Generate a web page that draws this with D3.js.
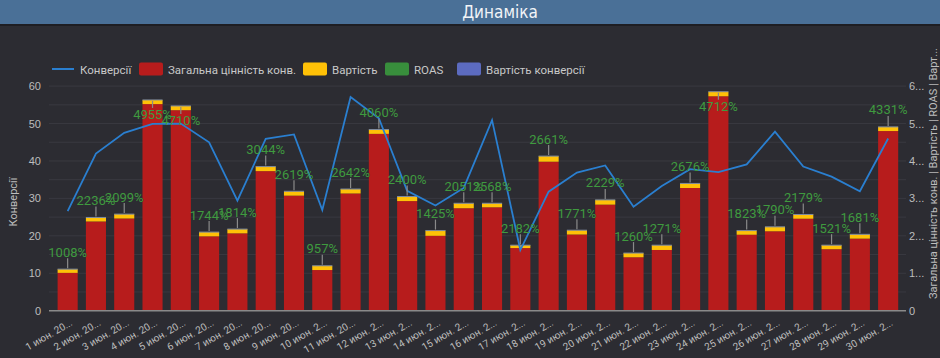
<!DOCTYPE html>
<html><head><meta charset="utf-8">
<script src="https://cdn.jsdelivr.net/npm/d3@7/dist/d3.min.js"></script>
<style>
html,body{margin:0;padding:0;background:#2c2c32;}
svg{display:block;font-family:Roboto,"Liberation Sans",Arial,sans-serif;}
</style></head>
<body><svg id="c" width="940" height="358"></svg>
<script>
const dates = ["1 июн. 20...","2 июн. 20...","3 июн. 20...","4 июн. 20...","5 июн. 20...","6 июн. 20...","7 июн. 20...","8 июн. 20...","9 июн. 20...","10 июн. 2...","11 июн. 20...","12 июн. 2...","13 июн. 2...","14 июн. 2...","15 июн. 2...","16 июн. 2...","17 июн. 2...","18 июн. 2...","19 июн. 2...","20 июн. 2...","21 июн. 2...","22 июн. 2...","23 июн. 2...","24 июн. 2...","25 июн. 2...","26 июн. 2...","27 июн. 2...","28 июн. 2...","29 июн. 2...","30 июн. 2..."];
const conversions = [26.6,42.0,47.5,49.9,50.0,45.0,29.4,45.9,47.1,26.9,57.1,51.4,32.0,28.1,32.8,50.9,16.2,31.8,36.9,38.8,27.8,33.3,37.8,37.0,39.1,47.8,38.5,35.8,31.9,46.0];
const convValue = [1010,2383,2463,5519,5356,1986,2066,3728,3073,1086,3131,4724,2928,2000,2737,2762,1673,3980,2035,2833,1427,1622,3278,5728,2029,2121,2457,1642,1925,4799];
const cost = [100,107,117,111,114,114,114,122,117,114,119,116,122,140,133,108,77,150,115,127,113,128,122,122,111,119,113,108,115,111];
const roasLabels = ["1008%","2236%","2099%","4955%","4710%","1744%","1814%","3044%","2619%","957%","2642%","4060%","2400%","1425%","2051%","2568%","2182%","2661%","1771%","2229%","1260%","1271%","2676%","4712%","1823%","1790%","2179%","1521%","1681%","4331%"];
const leftTicks = [0,10,20,30,40,50,60];
const gridTicks = [0,5,10,15,20,25,30,35,40,45,50,55,60];
const rightTicks = [0,1000,2000,3000,4000,5000,6000];
const rightTickLabels = ["0","1...","2...","3...","4...","5...","6..."];
const legendItems = [
  {name:"Конверсії", type:"line", color:"#2a7fd0"},
  {name:"Загальна цінність конв.", type:"rect", color:"#b71c1c"},
  {name:"Вартість", type:"rect", color:"#ffc107"},
  {name:"ROAS", type:"rect", color:"#388e3c"},
  {name:"Вартість конверсії", type:"rect", color:"#5c6bc0"}
];

const svg = d3.select("#c");
const W = 940, H = 358;
// title bar
svg.append("rect").attr("x",0).attr("y",0).attr("width",W).attr("height",24).attr("fill","#4a7097");
svg.append("rect").attr("x",0).attr("y",24).attr("width",W).attr("height",2).attr("fill","#1e1e23");
svg.append("text").attr("x",500).attr("y",18).attr("text-anchor","middle")
  .attr("fill","#f2f4f7").attr("font-size",17).attr("font-family","'Liberation Sans Narrow','DejaVu Sans Condensed',Roboto,sans-serif")
  .text("Динаміка");

const x0 = 49, x1 = 906, yTop = 86.1, yBot = 310.7;
const x = d3.scaleBand().domain(dates).range([53.5, 902.3]).paddingInner(0.29).paddingOuter(0.145);
const yL = d3.scaleLinear().domain([0,60]).range([yBot,yTop]);
const yR = d3.scaleLinear().domain([0,6000]).range([yBot,yTop]);

// grid
svg.append("g").selectAll("line").data(gridTicks.slice(1)).join("line")
  .attr("x1",x0).attr("x2",x1).attr("y1",d=>yL(d)).attr("y2",d=>yL(d))
  .attr("stroke","#393940").attr("stroke-width",1);

// left axis
const gl = svg.append("g").attr("transform",`translate(${x0},0)`)
  .call(d3.axisLeft(yL).tickValues(leftTicks).tickSize(0).tickPadding(8));
gl.select(".domain").remove();
gl.selectAll("text").attr("fill","#bdbdbd").attr("font-size",11);

// right axis
const gr = svg.append("g").attr("transform",`translate(${x1},0)`)
  .call(d3.axisRight(yR).tickValues(rightTicks).tickSize(0).tickPadding(3).tickFormat((d,i)=>rightTickLabels[i]));
gr.select(".domain").remove();
gr.selectAll("text").attr("fill","#bdbdbd").attr("font-size",11);

// axis titles
svg.append("text").attr("transform","translate(17,202) rotate(-90)").attr("text-anchor","middle")
  .attr("fill","#bdbdbd").attr("font-size",11).text("Конверсії");
svg.append("text").attr("transform","translate(937,299) rotate(-90)").attr("text-anchor","start")
  .attr("fill","#bdbdbd").attr("font-size",11).text("Загальна цінність конв. | Вартість | ROAS | Варт...");

// bars
const bw = x.bandwidth();
const bars = svg.append("g");
dates.forEach((d,i)=>{
  const xv = x(d);
  bars.append("rect").attr("x",xv).attr("width",bw)
    .attr("y",yR(convValue[i])).attr("height",yR(0)-yR(convValue[i])).attr("fill","#b71c1c");
  bars.append("rect").attr("x",xv).attr("width",bw)
    .attr("y",yR(convValue[i]+cost[i])).attr("height",yR(convValue[i])-yR(convValue[i]+cost[i])).attr("fill","#ffc107");
  bars.append("line").attr("x1",xv).attr("x2",xv+bw)
    .attr("y1",yR(convValue[i]+cost[i])).attr("y2",yR(convValue[i]+cost[i]))
    .attr("stroke","#7d8aa0").attr("stroke-width",1);
});

// baseline
svg.append("line").attr("x1",x0).attr("x2",x1).attr("y1",yBot).attr("y2",yBot).attr("stroke","#8a8a8a").attr("stroke-width",1.5);

// x labels
svg.append("g").selectAll("text").data(dates).join("text")
  .attr("transform",d=>`translate(${x(d)+bw/2+2},${yBot+8}) rotate(-30)`)
  .attr("text-anchor","end").attr("dy","0.7em")
  .attr("fill","#bdbdbd").attr("font-size",10).text(d=>d);

// line
const line = d3.line().x((d,i)=>x(dates[i])+bw/2).y(d=>yL(d));
svg.append("path").datum(conversions).attr("d",line).attr("fill","none")
  .attr("stroke","#2a7fd0").attr("stroke-width",1.8);

// ROAS labels
const lab = svg.append("g");
dates.forEach((d,i)=>{
  const cx = x(d)+bw/2;
  const top = yR(convValue[i]+cost[i]);
  const below = top - 25 < yTop;
  if (!below) {
    lab.append("line").attr("x1",cx).attr("x2",cx).attr("y1",top-1).attr("y2",top-11).attr("stroke","#8a8a8a").attr("stroke-width",1.2);
    lab.append("text").attr("x",cx).attr("y",top-12.5).attr("text-anchor","middle")
      .attr("fill","#3f9a3f").attr("font-size",13).text(roasLabels[i]);
  } else {
    lab.append("line").attr("x1",cx).attr("x2",cx).attr("y1",top+1).attr("y2",top+8).attr("stroke","#8a8a8a").attr("stroke-width",1.2);
    lab.append("text").attr("x",cx).attr("y",top+19).attr("text-anchor","middle")
      .attr("fill","#3f9a3f").attr("font-size",13).text(roasLabels[i]);
  }
});

// legend
const legX = [52,139,303,385,457];
const lg = svg.append("g");
legendItems.forEach((it,i)=>{
  const lx = legX[i], ly = 69;
  if (it.type==="line") {
    lg.append("line").attr("x1",lx).attr("x2",lx+22).attr("y1",ly).attr("y2",ly).attr("stroke",it.color).attr("stroke-width",2);
  } else {
    lg.append("rect").attr("x",lx).attr("y",ly-6.5).attr("width",24).attr("height",13).attr("rx",2).attr("fill",it.color);
  }
  lg.append("text").attr("x",lx+(it.type==="line"?28:29)).attr("y",ly+4.5).attr("fill","#c8c8c8").attr("font-size",11.5).text(it.name);
});
</script></body></html>
